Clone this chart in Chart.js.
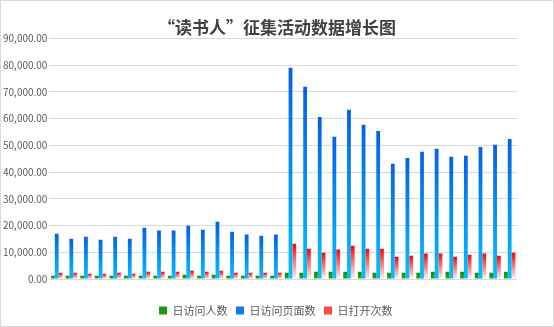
<!DOCTYPE html>
<html lang="zh">
<head>
<meta charset="UTF-8">
<title>“读书人”征集活动数据增长图</title>
<script src="https://cdn.jsdelivr.net/npm/chart.js"></script>
<style>
    html, body { margin: 0; padding: 0; background: #fff; }
    .wrap {
        width: 554px;
        height: 327px;
        box-sizing: border-box;
        border: 1px solid #d9d9d9;
        position: relative;
    }
</style>
</head>
<body>
<div class="wrap">
    <canvas id="growthChart" width="552" height="325"></canvas>
</div>
<script>
    // 活动天数（横轴不显示文字）
    const days = [];
    for (let i = 1; i <= 32; i++) days.push('第' + i + '天');

    const visitors = [1250, 1250, 1250, 1250, 1250, 1250, 1250, 1250, 1250, 1620, 1250, 1620, 1250, 1250, 1250, 1250,
                      2370, 2370, 2740, 2740, 2740, 2740, 2370, 2370, 2370, 2370, 2740, 2740, 2740, 2370, 2370, 2740];

    const pageViews = [16900, 15100, 15800, 14700, 15800, 15100, 19200, 18100, 18100, 19900, 18400, 21400, 17700, 16600, 16200, 16600,
                       79000, 71900, 60600, 53200, 63300, 57700, 55400, 43100, 45300, 47600, 48700, 45700, 46100, 49400, 50200, 52400];

    const opens = [2370, 2370, 2000, 2000, 2370, 2000, 2740, 2740, 2740, 3110, 2740, 3110, 2370, 2370, 2370, 2370,
                   13200, 11300, 9800, 11000, 12400, 11300, 11300, 8300, 8700, 9500, 9500, 8300, 9100, 9500, 8700, 9800];

    const yTicks = [0, 10000, 20000, 30000, 40000, 50000, 60000, 70000, 80000, 90000];

    const fontFamily = "'Noto Sans CJK SC', 'Noto Sans', sans-serif";

    // 每根柱子单独做上下渐变
    function barGradient(topColor, bottomColor) {
        return function (ctx) {
            const chart = ctx.chart;
            const area = chart.chartArea;
            if (!area || ctx.type !== 'data') return topColor;
            const y = chart.scales.y;
            const v = ctx.parsed ? ctx.parsed.y : ctx.raw;
            const top = y.getPixelForValue(v);
            const base = y.getPixelForValue(0);
            if (!isFinite(top) || base - top < 1) return topColor;
            const gr = chart.ctx.createLinearGradient(0, top, 0, base);
            gr.addColorStop(0, topColor);
            gr.addColorStop(1, bottomColor);
            return gr;
        };
    }

    const chart = new Chart(document.getElementById('growthChart'), {
        type: 'bar',
        data: {
            labels: days,
            datasets: [
                {
                    label: '日访问人数',
                    data: visitors,
                    backgroundColor: barGradient('#138a13', '#2aa62a'),
                    borderWidth: 0
                },
                {
                    label: '日访问页面数',
                    data: pageViews,
                    backgroundColor: barGradient('#0560e8', '#00c2ff'),
                    borderWidth: 0
                },
                {
                    label: '日打开次数',
                    data: opens,
                    backgroundColor: barGradient('#ff0000', '#fff2f2'),
                    borderWidth: 0
                }
            ]
        },
        options: {
            responsive: false,
            animation: false,
            devicePixelRatio: 1,
            datasets: {
                bar: {
                    categoryPercentage: 0.78,
                    barPercentage: 1.0
                }
            },
            layout: {
                padding: { left: 0, right: 0, top: 16, bottom: 0 }
            },
            scales: {
                x: {
                    grid: { display: false },
                    border: { display: false },
                    ticks: { display: false },
                    afterFit: (axis) => { axis.height = 20; }
                },
                y: {
                    min: 0,
                    max: 90000,
                    afterBuildTicks: (axis) => {
                        axis.ticks = yTicks.map(v => ({ value: v }));
                    },
                    grid: {
                        color: '#d9d9d9',
                        lineWidth: 1,
                        drawTicks: false
                    },
                    border: { display: false },
                    ticks: {
                        autoSkip: false,
                        color: '#595959',
                        padding: 2,
                        font: { family: fontFamily, size: 10 },
                        callback: (v) => v.toLocaleString('en-US', { minimumFractionDigits: 2, maximumFractionDigits: 2 })
                    }
                },
                // 右侧留白用的空轴
                yRight: {
                    position: 'right',
                    grid: { display: false },
                    border: { display: false },
                    ticks: { display: false },
                    afterFit: (axis) => { axis.width = 36; }
                }
            },
            plugins: {
                title: {
                    display: true,
                    text: '“读书人”征集活动数据增长图',
                    color: '#404040',
                    font: { family: fontFamily, size: 17, weight: 'bold' },
                    padding: { top: 0, bottom: 1 }
                },
                legend: {
                    position: 'bottom',
                    labels: {
                        boxWidth: 8,
                        boxHeight: 8,
                        padding: 6,
                        color: '#595959',
                        font: { family: fontFamily, size: 11 },
                        generateLabels: (c) => {
                            const fills = ['#1a9a1a', '#0a7af0', '#ff4a4a'];
                            return Chart.defaults.plugins.legend.labels.generateLabels(c).map((item, i) => {
                                item.fillStyle = fills[i];
                                item.strokeStyle = fills[i];
                                item.lineWidth = 0;
                                item.text = item.text + ' ';
                                return item;
                            });
                        }
                    }
                },
                tooltip: { enabled: false }
            }
        }
    });
</script>
</body>
</html>
